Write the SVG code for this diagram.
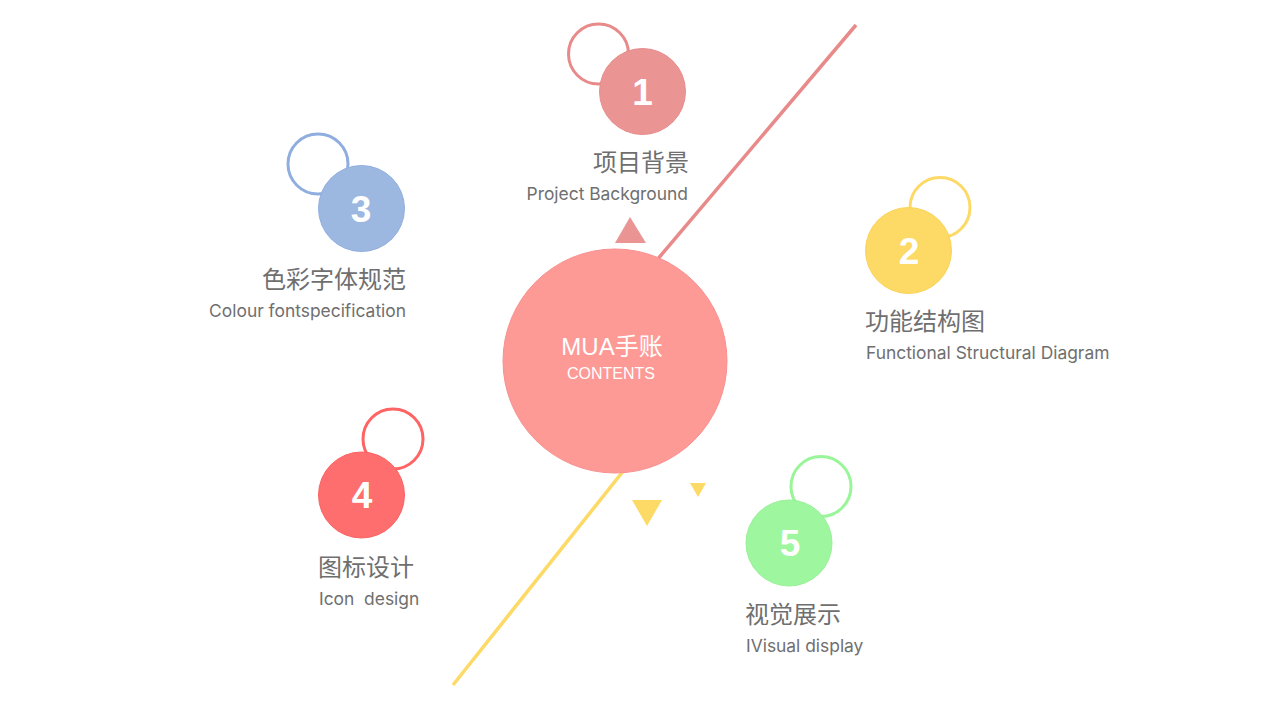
<svg xmlns="http://www.w3.org/2000/svg" width="1280" height="720" viewBox="0 0 1280 720">
<style>
.num{font-family:"Liberation Sans",Arial,sans-serif;font-weight:bold;font-size:37px;fill:#fff;text-anchor:middle}
.cn{font-family:"Noto Sans CJK SC","Noto Sans",sans-serif;font-size:24px;fill:#6f6f6f}
.en{font-family:Inter,Roboto,"Liberation Sans",sans-serif;font-size:17.4px;fill:#6f6f6f}
.ring{fill:none;stroke-width:3}
</style>
<rect width="1280" height="720" fill="#fff"/>
<g id="connectors">
<line x1="856" y1="25" x2="640" y2="280" stroke="#E98A8A" stroke-width="3.5"/>
<line x1="640" y1="450" x2="453" y2="685" stroke="#FDD965" stroke-width="3.5"/>
</g>
<g id="decor">
<polygon points="630,217 615,243 646,243" fill="#EA9494"/>
<polygon points="632,500 662,500 647,526" fill="#FDD965"/>
<polygon points="690,483 706,483 698,497" fill="#FDD965"/>
</g>
<g id="center">
<circle cx="615" cy="361" r="112" fill="#FD9A96" stroke="#F99090" stroke-width="1"/>
<text x="612" y="355" text-anchor="middle" font-family="'Liberation Sans','Noto Sans CJK SC',sans-serif" font-size="24" fill="#fff">MUA手账</text>
<text x="611" y="379" text-anchor="middle" font-family="'Liberation Sans',Arial,sans-serif" font-size="16" fill="#fff">CONTENTS</text>
</g>
<g id="node1">
<circle class="ring" cx="598.5" cy="54" r="30" stroke="#E88A8A"/>
<circle cx="642.5" cy="91.5" r="43" fill="#EA9494" stroke="#E88C8C" stroke-width="1"/>
<text class="num" x="642.5" y="104.5">1</text>
<text class="cn" x="689" y="171" text-anchor="end">项目背景</text>
<text class="en" x="688" y="200" text-anchor="end">Project Background</text>
</g>
<g id="node2">
<circle class="ring" cx="940" cy="207.5" r="30" stroke="#FDD965"/>
<circle cx="908.5" cy="250.5" r="43" fill="#FDD965" stroke="#FBD35A" stroke-width="1"/>
<text class="num" x="909" y="263.5">2</text>
<text class="cn" x="865" y="330">功能结构图</text>
<text class="en" x="866" y="359">Functional Structural Diagram</text>
</g>
<g id="node3">
<circle class="ring" cx="318" cy="164" r="30" stroke="#8FAEDF"/>
<circle cx="361.5" cy="208.5" r="43" fill="#9DB8E0" stroke="#8FAEDF" stroke-width="1"/>
<text class="num" x="361" y="221.5">3</text>
<text class="cn" x="406" y="288" text-anchor="end">色彩字体规范</text>
<text class="en" x="406" y="317" text-anchor="end">Colour fontspecification</text>
</g>
<g id="node4">
<circle class="ring" cx="393" cy="439" r="30" stroke="#FE6464"/>
<circle cx="361.5" cy="495" r="43" fill="#FE6E6E" stroke="#FA6262" stroke-width="1"/>
<text class="num" x="362" y="508">4</text>
<text class="cn" x="318" y="576">图标设计</text>
<text class="en" x="319" y="605" style="white-space:pre">Icon  design</text>
</g>
<g id="node5">
<circle class="ring" cx="821" cy="486.5" r="30" stroke="#98F598"/>
<circle cx="789" cy="543" r="43" fill="#9EF79E" stroke="#98F098" stroke-width="1"/>
<text class="num" x="790" y="556">5</text>
<text class="cn" x="745" y="623">视觉展示</text>
<text class="en" x="746" y="652">IVisual display</text>
</g>
</svg>
